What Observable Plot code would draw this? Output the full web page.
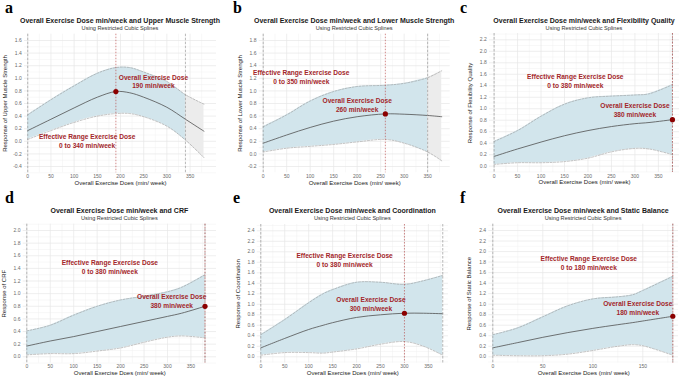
<!DOCTYPE html>
<html><head><meta charset="utf-8">
<script src="https://cdn.jsdelivr.net/npm/d3@7"></script>
<script src="https://cdn.jsdelivr.net/npm/@observablehq/plot@0.6"></script>
<style>
body{margin:0;background:#fff;}
#fig{position:relative;width:685px;height:378px;overflow:hidden;font-family:"Liberation Sans",Arial,sans-serif;}
.cell{position:absolute;height:188px;}
.letter{position:absolute;left:5px;top:0px;font:bold 16px/16px "Liberation Serif",serif;color:#000;}
.title{position:absolute;top:16.6px;font-weight:bold;font-size:7px;line-height:8px;text-align:center;color:#1a1a1a;white-space:nowrap;}
.subtitle{position:absolute;top:25.3px;font-size:5.6px;line-height:6.5px;text-align:center;color:#333;white-space:nowrap;}
.cell svg{position:absolute;left:0;top:32px;}
</style></head>
<body><div id="fig"></div>
<script>
// ---------- data ----------
const panelLetters = ["a", "b", "c", "d", "e", "f"];
const outcomes = ["Upper Muscle Strength", "Lower Muscle Strength", "Flexibility Quality", "CRF", "Coordination", "Static Balance"];
const optimalDose = [190, 260, 380, 380, 300, 180];
const optimalResponse = [0.79, 0.635, 0.81, 0.80, 0.83, 0.77];
const effectiveStart = [0, 0, 0, 0, 0, 0];
const effectiveEnd = [340, 350, 380, 380, 380, 180];

// label positions (data units)
const effLabelX = [128, 81, 173, 177, 175, 96];
const effLabelY = [0.005, 1.225, 1.49, 1.435, 1.85, 1.79];
const optLabelX = [271, 200, 300, 309, 230, 145];
const optLabelY = [0.955, 0.785, 0.98, 0.89, 1.01, 0.93];

// a: Upper Muscle Strength
const doseA  = [0, 50, 100, 150, 190, 220, 250, 300, 340, 380];
const fitA   = [0.17, 0.35, 0.53, 0.70, 0.79, 0.77, 0.70, 0.54, 0.35, 0.16];
const upperA = [0.42, 0.66, 0.88, 1.08, 1.17, 1.17, 1.10, 0.95, 0.74, 0.59];
const lowerA = [0.03, 0.17, 0.30, 0.40, 0.44, 0.44, 0.39, 0.24, 0.02, -0.26];
// b: Lower Muscle Strength
const doseB  = [0, 50, 100, 150, 200, 260, 300, 350, 380];
const fitB   = [0.17, 0.30, 0.42, 0.52, 0.59, 0.635, 0.63, 0.61, 0.59];
const upperB = [0.43, 0.62, 0.84, 0.99, 1.07, 1.09, 1.12, 1.21, 1.32];
const lowerB = [0.03, 0.09, 0.12, 0.15, 0.19, 0.23, 0.17, 0.03, -0.11];
// c: Flexibility Quality
const doseC  = [0, 50, 100, 150, 200, 250, 300, 330, 380];
const fitC   = [0.17, 0.30, 0.42, 0.53, 0.62, 0.69, 0.74, 0.76, 0.81];
const upperC = [0.43, 0.62, 0.87, 1.08, 1.19, 1.22, 1.24, 1.26, 1.42];
const lowerC = [0.03, 0.06, 0.06, 0.08, 0.14, 0.25, 0.31, 0.30, 0.20];
// d: CRF
const doseD  = [0, 50, 100, 150, 200, 250, 300, 330, 380];
const fitD   = [0.17, 0.25, 0.32, 0.40, 0.48, 0.56, 0.64, 0.69, 0.80];
const upperD = [0.41, 0.50, 0.66, 0.80, 0.90, 0.96, 1.03, 1.10, 1.30];
const lowerD = [0.03, 0.05, 0.05, 0.09, 0.14, 0.23, 0.31, 0.33, 0.30];
// e: Coordination
const doseE  = [0, 50, 100, 130, 150, 200, 250, 300, 340, 380];
const fitE   = [0.17, 0.35, 0.52, 0.60, 0.65, 0.75, 0.80, 0.83, 0.83, 0.82];
const upperE = [0.42, 0.71, 1.03, 1.20, 1.28, 1.42, 1.42, 1.38, 1.45, 1.55];
const lowerE = [0.03, 0.08, 0.08, 0.07, 0.09, 0.15, 0.24, 0.29, 0.20, 0.03];
// f: Static Balance
const doseF  = [0, 25, 50, 75, 100, 125, 140, 150, 180];
const fitF   = [0.17, 0.27, 0.37, 0.46, 0.54, 0.61, 0.65, 0.68, 0.77];
const upperF = [0.42, 0.55, 0.76, 0.97, 1.10, 1.14, 1.18, 1.26, 1.53];
const lowerF = [0.03, 0.02, 0.02, 0.05, 0.12, 0.20, 0.23, 0.21, 0.03];

// tick labels
const xTicks380 = [0, 50, 100, 150, 200, 250, 300, 350];
const xMinor380 = [25, 75, 125, 175, 225, 275, 325, 375];
const xTicks180 = [0, 50, 100, 150];
const xMinor180 = [25, 75, 125, 175];
const yTicksA = [-0.4, -0.2, 0, 0.2, 0.4, 0.6, 0.8, 1.0, 1.2, 1.4, 1.6];
const yTicksB = [-0.2, 0, 0.2, 0.4, 0.6, 0.8, 1.0, 1.2, 1.4, 1.6, 1.8];
const yTicksC = [0, 0.2, 0.4, 0.6, 0.8, 1.0, 1.2, 1.4, 1.6, 1.8, 2.0, 2.2];
const yTicksD = [0, 0.2, 0.4, 0.6, 0.8, 1.0, 1.2, 1.4, 1.6, 1.8, 2.0];
const yTicksE = [0, 0.2, 0.4, 0.6, 0.8, 1.0, 1.2, 1.4, 1.6, 1.8, 2.0, 2.2, 2.4];
const xAxisTitle = "Overall Exercise Does (min/ week)";
const subtitle = "Using Restricted Cubic Splines";

// ---------- layout (pixels) ----------
const layout = [
  {left: 0,   top: 0,   width: 228, L: 24,   R: 216,   T: 33.7, B: 172.3, xDomain: [-7, 407],     yDomain: [-0.5, 1.7]},
  {left: 228, top: 0,   width: 227, L: 30.7, R: 221.7, T: 33.7, B: 172.3, xDomain: [-8.5, 398],   yDomain: [-0.3, 1.9]},
  {left: 455, top: 0,   width: 230, L: 34,   R: 224,   T: 33,   B: 172,   xDomain: [-9.8, 395],   yDomain: [-0.11, 2.31]},
  {left: 0,   top: 190, width: 228, L: 22.7, R: 216,   T: 33.7, B: 172.6, xDomain: [-7.7, 404.5], yDomain: [-0.1, 2.1]},
  {left: 228, top: 190, width: 227, L: 28.7, R: 220,   T: 34,   B: 172.6, xDomain: [-7.5, 392],   yDomain: [-0.12, 2.52]},
  {left: 455, top: 190, width: 230, L: 33.3, R: 223,   T: 33.7, B: 172.6, xDomain: [-4, 185.7],   yDomain: [-0.12, 2.52]}
];

const series = [
  {dose: doseA, fit: fitA, upper: upperA, lower: lowerA, xTicks: xTicks380, xMinor: xMinor380, yTicks: yTicksA},
  {dose: doseB, fit: fitB, upper: upperB, lower: lowerB, xTicks: xTicks380, xMinor: xMinor380, yTicks: yTicksB},
  {dose: doseC, fit: fitC, upper: upperC, lower: lowerC, xTicks: xTicks380, xMinor: xMinor380, yTicks: yTicksC},
  {dose: doseD, fit: fitD, upper: upperD, lower: lowerD, xTicks: xTicks380, xMinor: xMinor380, yTicks: yTicksD},
  {dose: doseE, fit: fitE, upper: upperE, lower: lowerE, xTicks: xTicks380, xMinor: xMinor380, yTicks: yTicksE},
  {dose: doseF, fit: fitF, upper: upperF, lower: lowerF, xTicks: xTicks180, xMinor: xMinor180, yTicks: yTicksE}
];

const FONT = "Liberation Sans, Arial, sans-serif";
const RED_TEXT = "#a3262a";
const fig = document.getElementById("fig");

series.forEach((s, i) => {
  const lay = layout[i];
  const cell = document.createElement("div");
  cell.className = "cell";
  cell.style.left = lay.left + "px";
  cell.style.top = lay.top + "px";
  cell.style.width = lay.width + "px";

  const letter = document.createElement("div");
  letter.className = "letter";
  letter.textContent = panelLetters[i];
  cell.appendChild(letter);

  const title = document.createElement("div");
  title.className = "title";
  title.style.left = (lay.L - 30) + "px";
  title.style.width = (lay.R - lay.L + 60) + "px";
  title.textContent = "Overall Exercise Dose min/week and " + outcomes[i];
  cell.appendChild(title);

  const sub = document.createElement("div");
  sub.className = "subtitle";
  sub.style.left = lay.L + "px";
  sub.style.width = (lay.R - lay.L) + "px";
  sub.textContent = subtitle;
  cell.appendChild(sub);

  const rows = s.dose.map((d, j) => ({dose: d, fit: s.fit[j], upper: s.upper[j], lower: s.lower[j]}));
  const end = effectiveEnd[i];
  const blue = rows.filter(r => r.dose <= end);
  const grey = rows.filter(r => r.dose >= end);
  const curve = "catmull-rom";
  const yMinor = s.yTicks.slice(0, -1).map((t, j) => (t + s.yTicks[j + 1]) / 2)
    .concat([s.yTicks[0] - 0.1, s.yTicks[s.yTicks.length - 1] + 0.1]);
  const svgTop = 32, svgH = 156;

  const plot = Plot.plot({
    width: lay.width,
    height: svgH,
    marginLeft: lay.L,
    marginRight: lay.width - lay.R,
    marginTop: lay.T - svgTop,
    marginBottom: svgTop + svgH - lay.B,
    x: {domain: lay.xDomain, label: null},
    y: {domain: lay.yDomain, label: null},
    style: {fontFamily: FONT, background: "transparent", overflow: "visible"},
    marks: [
      Plot.ruleX(s.xMinor.filter(v => v <= lay.xDomain[1]), {stroke: "#f1f1f1", strokeWidth: 0.5}),
      Plot.ruleY(yMinor.filter(v => v >= lay.yDomain[0] && v <= lay.yDomain[1]), {stroke: "#f1f1f1", strokeWidth: 0.5}),
      Plot.ruleX(s.xTicks, {stroke: "#e6e6e6", strokeWidth: 0.7}),
      Plot.ruleY(s.yTicks, {stroke: "#e6e6e6", strokeWidth: 0.7}),
      Plot.areaY(blue, {x: "dose", y1: "lower", y2: "upper", fill: "#d2e5ec", curve}),
      grey.length > 1 ? Plot.areaY(grey, {x: "dose", y1: "lower", y2: "upper", fill: "#ececec", curve}) : null,
      Plot.line(rows, {x: "dose", y: "upper", stroke: "#9a9a9a", strokeWidth: 0.6, strokeDasharray: "2,1.5", curve}),
      Plot.line(rows, {x: "dose", y: "lower", stroke: "#9a9a9a", strokeWidth: 0.6, strokeDasharray: "2,1.5", curve}),
      Plot.line(rows, {x: "dose", y: "fit", stroke: "#505050", strokeWidth: 0.8, curve}),
      Plot.ruleX([effectiveStart[i], end], {stroke: "#8a8a8a", strokeWidth: 0.6, strokeDasharray: "2.5,1.5"}),
      Plot.ruleX([optimalDose[i]], {stroke: "#b54040", strokeWidth: 0.6, strokeDasharray: "1.5,1.5"}),
      Plot.dot([{d: optimalDose[i], r: optimalResponse[i]}], {x: "d", y: "r", r: 2.6, fill: "#8b0000", stroke: null}),
      Plot.text([{x: effLabelX[i], y: effLabelY[i], t: "Effective Range Exercise Dose\n" + effectiveStart[i] + " to " + end + " min/week"}],
        {x: "x", y: "y", text: "t", fill: RED_TEXT, fontWeight: "bold", fontSize: 6.6, lineHeight: 1.36}),
      Plot.text([{x: optLabelX[i], y: optLabelY[i], t: "Overall Exercise Dose\n" + optimalDose[i] + " min/week"}],
        {x: "x", y: "y", text: "t", fill: RED_TEXT, fontWeight: "bold", fontSize: 6.6, lineHeight: 1.36}),
      Plot.axisX({ticks: s.xTicks, tickSize: 0, tickPadding: 1.5, fontSize: 5, fill: "#6a6a6a", tickFormat: d => String(d)}),
      Plot.axisY({ticks: s.yTicks, tickSize: 0, tickPadding: 2.7, fontSize: 5, fill: "#6a6a6a", tickFormat: d => d.toFixed(1)}),
      Plot.text([xAxisTitle], {frameAnchor: "bottom", dy: 9.8, fontSize: 6, fill: "#222", textAnchor: "middle", lineAnchor: "middle"}),
      Plot.text(["Response of " + outcomes[i]], {frameAnchor: "left", dx: -19.5, rotate: -90, fontSize: 6, fill: "#222", textAnchor: "middle", lineAnchor: "middle"})
    ]
  });
  cell.appendChild(plot);
  fig.appendChild(cell);
});
</script>
</body></html>
